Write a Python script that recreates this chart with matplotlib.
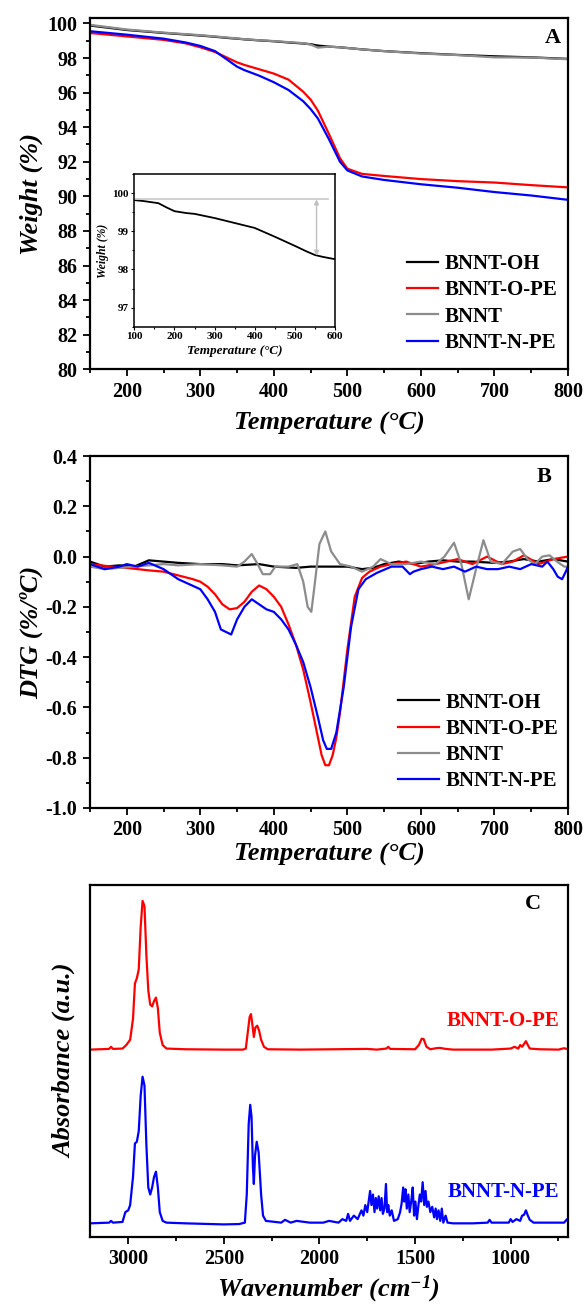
import matplotlib
matplotlib.use('Agg')
import matplotlib.pyplot as plt
from matplotlib.ticker import MultipleLocator, NullLocator

plt.rcParams['font.family'] = ['Liberation Serif', 'DejaVu Serif']
plt.rcParams['font.weight'] = 'bold'
plt.rcParams['axes.labelweight'] = 'bold'
plt.rcParams['axes.unicode_minus'] = False
plt.rcParams['mathtext.fontset'] = 'custom'
plt.rcParams['mathtext.rm'] = 'Liberation Serif:bold:italic'
plt.rcParams['mathtext.it'] = 'Liberation Serif:bold:italic'
plt.rcParams['mathtext.default'] = 'rm'

# ---------------- Panel A : TGA ----------------
tga_t = [150, 200, 250, 280, 300, 320, 340, 350, 360, 380, 400, 420, 440, 450,
         460, 475, 490, 500, 520, 550, 600, 650, 700, 750, 800]
tga_oh = [99.88, 99.62, 99.45, 99.36, 99.3, 99.23, 99.15, 99.12, 99.08, 99.02, 98.97,
          98.9, 98.84, 98.8, 98.72, 98.66, 98.62, 98.58, 98.5, 98.4, 98.28, 98.18,
          98.1, 98.04, 97.95]
tga_bnnt = [99.92, 99.65, 99.47, 99.38, 99.32, 99.25, 99.17, 99.13, 99.09, 99.03, 98.98,
            98.92, 98.86, 98.78, 98.6, 98.66, 98.62, 98.58, 98.5, 98.4, 98.26, 98.17,
            98.04, 98.03, 97.93]
tga_ope = [99.45, 99.25, 99.05, 98.85, 98.62, 98.35, 97.95, 97.75, 97.6, 97.35, 97.1,
           96.75, 96.05, 95.6, 94.95, 93.6, 92.2, 91.6, 91.3, 91.18, 91.0, 90.88,
           90.8, 90.65, 90.52]
tga_npe = [99.55, 99.35, 99.12, 98.9, 98.7, 98.4, 97.8, 97.5, 97.3, 96.98, 96.6,
           96.15, 95.5, 95.05, 94.5, 93.3, 92.0, 91.5, 91.15, 90.95, 90.7, 90.5,
           90.25, 90.05, 89.8]

inset_t = [100, 120, 160, 180, 200, 230, 250, 300, 350, 400, 450, 500, 530, 550, 570, 600]
inset_w = [99.82, 99.8, 99.74, 99.63, 99.53, 99.48, 99.46, 99.35, 99.22, 99.09, 98.86,
           98.62, 98.47, 98.38, 98.33, 98.27]
inset_ref = 99.84
inset_ref_end = 582
inset_arrow_t = 554
inset_arrow_low = 98.36

# ---------------- Panel B : DTG ----------------
dtg_oh_t = [150, 170, 190, 210, 230, 250, 270, 300, 330, 350, 380, 400, 430, 450, 480,
            500, 520, 535, 550, 570, 590, 610, 630, 650, 670, 700, 720, 740, 760, 780, 800]
dtg_oh = [-0.02, -0.04, -0.035, -0.04, -0.015, -0.02, -0.025, -0.03, -0.03, -0.035,
          -0.03, -0.04, -0.045, -0.04, -0.04, -0.04, -0.05, -0.045, -0.03, -0.02, -0.03,
          -0.02, -0.015, -0.02, -0.02, -0.025, -0.02, -0.01, -0.02, -0.01, -0.02]

dtg_bnnt_t = [150, 170, 190, 210, 230, 250, 270, 300, 330, 350, 360, 370, 378, 385, 395,
              402, 420, 432, 440, 446, 451, 456, 462, 470, 478, 490, 505, 520, 535, 545,
              560, 580, 600, 620, 632, 645, 655, 665, 675, 685, 695, 710, 725, 735, 745,
              755, 765, 775, 785, 795, 800]
dtg_bnnt = [-0.04, -0.05, -0.045, -0.04, -0.035, -0.03, -0.035, -0.03, -0.035, -0.04,
            -0.02, 0.01, -0.03, -0.07, -0.07, -0.04, -0.04, -0.03, -0.1, -0.2, -0.22,
            -0.1, 0.05, 0.1, 0.02, -0.03, -0.04, -0.06, -0.04, -0.01, -0.03, -0.03,
            -0.02, -0.03, 0.0, 0.055, -0.03, -0.17, -0.05, 0.065, -0.02, -0.03, 0.02,
            0.03, -0.01, -0.03, 0.0, 0.005, -0.02, -0.04, -0.04]

dtg_ope_t = [150, 180, 200, 230, 250, 270, 290, 300, 310, 320, 330, 340, 350, 360, 370,
             380, 390, 400, 410, 420, 430, 440, 450, 460, 465, 470, 475, 480, 485, 490,
             500, 510, 520, 530, 545, 560, 580, 600, 620, 650, 670, 690, 710, 725, 740,
             760, 780, 800]
dtg_ope = [-0.03, -0.04, -0.045, -0.055, -0.06, -0.075, -0.09, -0.1, -0.12, -0.15,
           -0.19, -0.21, -0.205, -0.18, -0.14, -0.115, -0.13, -0.16, -0.2, -0.27, -0.35,
           -0.45, -0.58, -0.72, -0.79, -0.83, -0.83, -0.79, -0.72, -0.62, -0.37, -0.16,
           -0.085, -0.06, -0.04, -0.03, -0.02, -0.04, -0.03, -0.01, -0.03, 0.0, -0.03,
           -0.02, 0.005, -0.03, -0.01, 0.0]

dtg_npe_t = [150, 170, 190, 200, 215, 230, 250, 270, 285, 300, 310, 320, 328, 335, 342,
             350, 360, 370, 380, 390, 400, 410, 420, 430, 440, 450, 460, 467, 472, 478,
             485, 495, 505, 515, 525, 540, 560, 575, 585, 590, 600, 615, 630, 645, 660,
             675, 690, 705, 720, 735, 750, 765, 772, 780, 786, 792, 797, 800]
dtg_npe = [-0.03, -0.05, -0.04, -0.03, -0.04, -0.025, -0.05, -0.09, -0.11, -0.13, -0.17,
           -0.22, -0.29, -0.3, -0.31, -0.25, -0.2, -0.17, -0.19, -0.21, -0.22, -0.25,
           -0.29, -0.35, -0.42, -0.52, -0.64, -0.73, -0.765, -0.765, -0.7, -0.52, -0.28,
           -0.13, -0.09, -0.065, -0.04, -0.04, -0.07, -0.06, -0.05, -0.04, -0.05, -0.04,
           -0.06, -0.04, -0.05, -0.05, -0.04, -0.05, -0.03, -0.04, -0.02, -0.05, -0.08,
           -0.09, -0.06, -0.04]

# ---------------- Panel C : FTIR (offset for display) ----------------
ir_ope_wn = [3200, 3100, 3090, 3080, 3030, 3010, 2990, 2975, 2965, 2955, 2945, 2935,
             2925, 2915, 2905, 2895, 2885, 2875, 2865, 2855, 2845, 2835, 2820, 2800,
             2700, 2500, 2400, 2385, 2375, 2365, 2358, 2350, 2343, 2335, 2325, 2315,
             2305, 2290, 2270, 2100, 1750, 1700, 1650, 1640, 1630, 1500, 1480, 1465,
             1455, 1440, 1420, 1390, 1370, 1340, 1300, 1100, 1000, 980, 960, 950, 940,
             930, 920, 910, 900, 850, 750, 720, 700]
ir_ope = [0.532, 0.534, 0.54, 0.534, 0.535, 0.545, 0.56, 0.62, 0.72, 0.735, 0.76, 0.88,
          0.955, 0.94, 0.8, 0.7, 0.66, 0.655, 0.67, 0.68, 0.65, 0.58, 0.545, 0.535,
          0.533, 0.532, 0.532, 0.535, 0.58, 0.625, 0.633, 0.6, 0.568, 0.595, 0.6, 0.585,
          0.56, 0.54, 0.533, 0.532, 0.534, 0.532, 0.535, 0.54, 0.534, 0.533, 0.545,
          0.563, 0.562, 0.54, 0.533, 0.536, 0.537, 0.534, 0.532, 0.532, 0.535, 0.54,
          0.535, 0.545, 0.54, 0.548, 0.556, 0.545, 0.535, 0.533, 0.532, 0.536, 0.533]

ir_npe_wn = [3200, 3100, 3090, 3080, 3030, 3015, 3000, 2990, 2975, 2965, 2955, 2945,
             2935, 2925, 2915, 2905, 2895, 2885, 2875, 2865, 2855, 2845, 2835, 2820,
             2800, 2700, 2500, 2420, 2390, 2380, 2370, 2362, 2355, 2348, 2343, 2337,
             2328, 2318, 2305, 2295, 2280, 2200, 2180, 2150, 2120, 2050, 1980, 1950,
             1900, 1880, 1860, 1850, 1840, 1820, 1800, 1780, 1770, 1760, 1750, 1740,
             1735, 1728, 1720, 1712, 1705, 1698, 1690, 1682, 1675, 1668, 1660, 1652,
             1646, 1640, 1632, 1622, 1610, 1590, 1578, 1570, 1562, 1556, 1550, 1543,
             1535, 1528, 1520, 1512, 1505, 1498, 1490, 1482, 1475, 1468, 1460, 1452,
             1445, 1438, 1430, 1420, 1410, 1400, 1392, 1385, 1377, 1368, 1360, 1352,
             1340, 1330, 1300, 1200, 1120, 1110, 1100, 1010, 1000, 990, 970, 950, 940,
             930, 920, 910, 900, 880, 800, 760, 720, 705, 700]
ir_npe = [0.038, 0.04, 0.045, 0.04, 0.042, 0.07, 0.075, 0.09, 0.17, 0.265, 0.27, 0.3,
          0.4, 0.455, 0.43, 0.26, 0.14, 0.12, 0.14, 0.17, 0.185, 0.14, 0.07, 0.045,
          0.04, 0.038, 0.035, 0.036, 0.04, 0.12, 0.32, 0.375, 0.34, 0.2, 0.15, 0.23,
          0.27, 0.24, 0.12, 0.06, 0.045, 0.04, 0.048, 0.04, 0.045, 0.04, 0.04, 0.045,
          0.04, 0.05, 0.045, 0.065, 0.045, 0.06, 0.05, 0.075, 0.06, 0.09, 0.07, 0.11,
          0.13, 0.09, 0.12, 0.07, 0.11, 0.08, 0.115, 0.075, 0.11, 0.065, 0.08, 0.15,
          0.07, 0.09, 0.06, 0.075, 0.045, 0.05, 0.07, 0.095, 0.14, 0.1, 0.135, 0.08,
          0.12, 0.07, 0.1, 0.14, 0.06, 0.1, 0.05, 0.09, 0.12, 0.1, 0.155, 0.09, 0.13,
          0.085, 0.1, 0.07, 0.085, 0.055, 0.08, 0.05, 0.075, 0.045, 0.08, 0.04, 0.06,
          0.04, 0.038, 0.038, 0.04, 0.048, 0.04, 0.04, 0.05, 0.042, 0.05, 0.045, 0.06,
          0.062, 0.075, 0.06, 0.048, 0.04, 0.04, 0.04, 0.04, 0.05, 0.045]

labels = ['BNNT-OH', 'BNNT-O-PE', 'BNNT', 'BNNT-N-PE']
colors = ['#000000', '#ff0000', '#8c8c8c', '#0000ff']

fig = plt.figure(figsize=(5.87, 13.04), dpi=100)
axA = fig.add_axes([0.1533, 0.7168, 0.8143, 0.2692])
axB = fig.add_axes([0.1533, 0.3804, 0.8143, 0.2699])
axC = fig.add_axes([0.1533, 0.0516, 0.8143, 0.2697])
axI = fig.add_axes([0.2288, 0.7495, 0.3419, 0.1169])

lw = 1.6
tick_fs = 14.5
label_fs = 19


def style(ax):
    ax.tick_params(which='both', direction='out', top=False, right=False,
                   labelsize=tick_fs, width=1.3, pad=4)
    ax.tick_params(which='major', length=5)
    ax.tick_params(which='minor', length=3)
    for s in ax.spines.values():
        s.set_linewidth(1.6)


# Panel A
axA.plot(tga_t, tga_oh, color=colors[0], lw=lw, label=labels[0])
axA.plot(tga_t, tga_ope, color=colors[1], lw=lw, label=labels[1])
axA.plot(tga_t, tga_bnnt, color=colors[2], lw=lw, label=labels[2])
axA.plot(tga_t, tga_npe, color=colors[3], lw=lw, label=labels[3])
axA.set_xlim(150, 800)
axA.set_ylim(80, 100.3)
axA.xaxis.set_major_locator(MultipleLocator(100))
axA.xaxis.set_minor_locator(MultipleLocator(50))
axA.yaxis.set_major_locator(MultipleLocator(2))
axA.yaxis.set_minor_locator(MultipleLocator(1))
style(axA)
axA.set_xlabel('Temperature (°C)', fontsize=label_fs, fontstyle='italic', labelpad=7)
axA.set_ylabel('Weight (%)', fontsize=label_fs, fontstyle='italic', labelpad=3)
axA.text(0.969, 0.944, 'A', transform=axA.transAxes, fontsize=16, ha='center', va='center')
axA.legend(loc='lower left', bbox_to_anchor=(0.655, 0.035), frameon=False, fontsize=15,
           handlelength=1.5, handletextpad=0.3, labelspacing=0.3, borderaxespad=0,
           borderpad=0.2)

# Inset
axI.plot(inset_t, inset_w, color='black', lw=1.3)
axI.plot([100, inset_ref_end], [inset_ref, inset_ref], color='#c8c8c8', lw=1.2)
axI.annotate('', xy=(inset_arrow_t, inset_arrow_low), xytext=(inset_arrow_t, inset_ref),
             arrowprops=dict(arrowstyle='<|-|>', color='#c0c0c0', lw=1.0,
                             mutation_scale=7, shrinkA=0, shrinkB=0))
axI.set_xlim(100, 600)
axI.set_ylim(96.5, 100.5)
axI.xaxis.set_major_locator(MultipleLocator(100))
axI.xaxis.set_minor_locator(MultipleLocator(50))
axI.yaxis.set_major_locator(MultipleLocator(1))
axI.yaxis.set_minor_locator(MultipleLocator(0.5))
axI.tick_params(which='both', direction='out', top=False, right=False, labelsize=8,
                width=0.8, pad=1.5)
axI.tick_params(which='major', length=2.5)
axI.tick_params(which='minor', length=1.5)
for s in axI.spines.values():
    s.set_linewidth(1.1)
axI.set_xlabel('Temperature (°C)', fontsize=9.5, fontstyle='italic', labelpad=3)
axI.set_ylabel('Weight (%)', fontsize=8.5, fontstyle='italic', labelpad=2)

# Panel B
axB.plot(dtg_oh_t, dtg_oh, color=colors[0], lw=lw, label=labels[0])
axB.plot(dtg_ope_t, dtg_ope, color=colors[1], lw=lw, label=labels[1])
axB.plot(dtg_bnnt_t, dtg_bnnt, color=colors[2], lw=lw, label=labels[2])
axB.plot(dtg_npe_t, dtg_npe, color=colors[3], lw=lw, label=labels[3])
axB.set_xlim(150, 800)
axB.set_ylim(-1.0, 0.4)
axB.xaxis.set_major_locator(MultipleLocator(100))
axB.xaxis.set_minor_locator(MultipleLocator(50))
axB.yaxis.set_major_locator(MultipleLocator(0.2))
axB.yaxis.set_minor_locator(MultipleLocator(0.1))
axB.yaxis.set_major_formatter(plt.FuncFormatter(lambda v, p: f'{v:.1f}'))
style(axB)
axB.set_xlabel('Temperature (°C)', fontsize=label_fs, fontstyle='italic', labelpad=2)
axB.set_ylabel('DTG (%/ºC)', fontsize=label_fs, fontstyle='italic', labelpad=2)
axB.text(0.951, 0.941, 'B', transform=axB.transAxes, fontsize=16, ha='center', va='center')
axB.legend(loc='lower left', bbox_to_anchor=(0.635, 0.035), frameon=False, fontsize=15,
           handlelength=2.0, handletextpad=0.3, labelspacing=0.3, borderaxespad=0,
           borderpad=0.2)

# Panel C
axC.plot(ir_ope_wn, ir_ope, color=colors[1], lw=lw)
axC.plot(ir_npe_wn, ir_npe, color=colors[3], lw=lw)
axC.set_xlim(3200, 700)
axC.set_ylim(0, 1)
axC.xaxis.set_major_locator(MultipleLocator(500))
axC.xaxis.set_minor_locator(MultipleLocator(250))
axC.yaxis.set_major_locator(NullLocator())
style(axC)
axC.set_xlabel('Wavenumber (cm$^{-1}$)', fontsize=label_fs, fontstyle='italic', labelpad=3)
axC.set_ylabel('Absorbance (a.u.)', fontsize=label_fs, fontstyle='italic', labelpad=10)
axC.text(0.927, 0.945, 'C', transform=axC.transAxes, fontsize=16, ha='center', va='center')
axC.text(747, 0.614, 'BNNT-O-PE', color=colors[1], fontsize=15, ha='right', va='center')
axC.text(747, 0.128, 'BNNT-N-PE', color=colors[3], fontsize=15, ha='right', va='center')

fig.savefig('out.png', dpi=100)
